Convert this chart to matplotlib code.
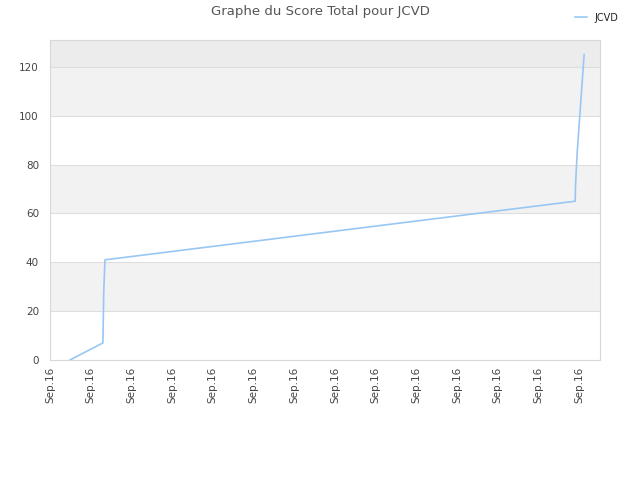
import matplotlib
matplotlib.use("Agg")
import matplotlib.pyplot as plt

# Data (x in tick units, y = score)
x_vals = [0.49, 1.30, 1.32, 1.35, 12.90, 12.91, 12.95, 13.12]
y_vals = [0, 7, 28, 41, 65, 72, 85, 125]
tick_labels = ["Sep.16"] * 14
series_name = "JCVD"
title = "Graphe du Score Total pour JCVD"

fig = plt.figure(figsize=(6.4, 4.8), dpi=100)
ax = fig.add_axes([50/640, 120/480, 550/640, 320/480])

ymax = 131
xmax = 13.51
# alternating bands
bands = [(0, 20, "#ffffff"), (20, 40, "#f2f2f2"), (40, 60, "#ffffff"),
         (60, 80, "#f2f2f2"), (80, 100, "#ffffff"), (100, 120, "#f2f2f2"),
         (120, ymax, "#ececec")]
for lo, hi, c in bands:
    ax.axhspan(lo, hi, color=c, zorder=0, lw=0)
for yv in range(20, 121, 20):
    ax.axhline(yv, color="#dedede", lw=0.8, zorder=1)

ax.plot(x_vals, y_vals, color="#99c7f3", lw=1.2, zorder=3, label=series_name)

ax.set_xlim(0, xmax)
ax.set_ylim(0, ymax)
ax.set_xticks(range(14))
ax.set_xticklabels(tick_labels, rotation=90, fontsize=7.5, color="#444444")
ax.set_yticks(range(0, 121, 20))
ax.tick_params(axis="y", labelsize=7.5, colors="#444444", length=0, pad=8)
ax.tick_params(axis="x", length=0, pad=5)
for s in ax.spines.values():
    s.set_color("#d8d8d8")
    s.set_linewidth(0.8)

fig.text(0.5, 1 - 12/480, title, ha="center", va="center", fontsize=9.5, color="#555555")
leg = fig.legend(loc="upper right", bbox_to_anchor=(627/640, 1 - 4/480), frameon=False,
                 fontsize=7, handlelength=1.2, handletextpad=0.8)
for t in leg.get_texts():
    t.set_color("#222222")

fig.savefig("out.png", dpi=100)
